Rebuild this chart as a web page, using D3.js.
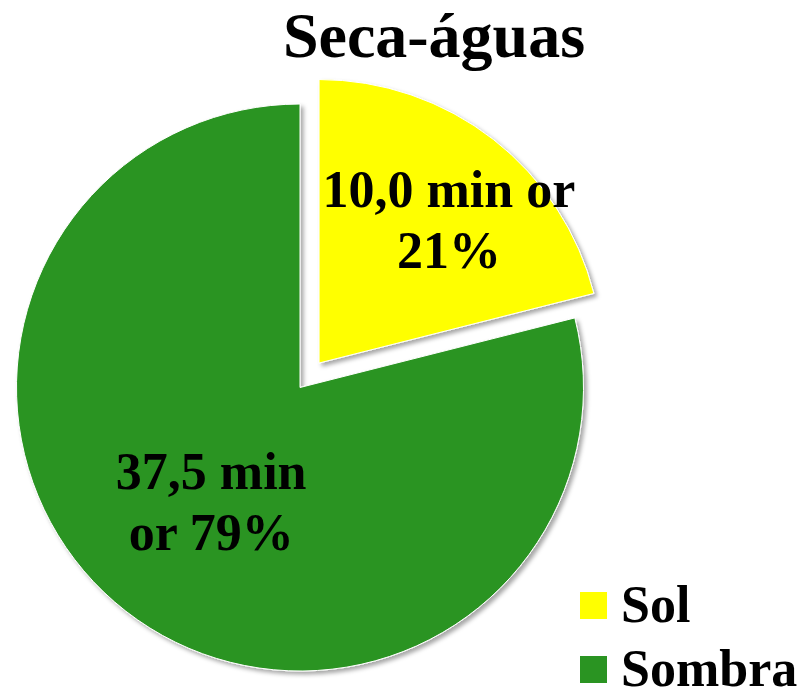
<!DOCTYPE html>
<html>
<head>
<meta charset="utf-8">
<script src="https://cdn.jsdelivr.net/npm/d3@7"></script>
<style>
  html, body { margin: 0; padding: 0; background: #fff; }
  svg text { font-family: "Liberation Serif", "Times New Roman", serif; font-weight: bold; fill: #000; }
</style>
</head>
<body>
<svg width="806" height="687"></svg>
<script>
// chart data
var categories = ["Sol", "Sombra"];
var minutes = [10.0, 37.5];
var minuteLabels = ["10,0", "37,5"];
var percentLabels = ["21%", "79%"];
var colors = ["#FFFF00", "#2A9422"];
var chartTitle = "Seca-águas";

(function () {
    'use strict';

    var svg = d3.select("svg");
    var cx = 300, cy = 387.5, r = 283.5;
    var explode = 31;

    var defs = svg.append("defs");
    var f = defs.append("filter").attr("id", "shadow")
        .attr("x", "-10%").attr("y", "-10%").attr("width", "120%").attr("height", "120%");
    f.append("feDropShadow")
        .attr("dx", 3).attr("dy", 3).attr("stdDeviation", 2)
        .attr("flood-color", "#000").attr("flood-opacity", 0.35);

    var pie = d3.pie().sort(null).value(function (d) { return d; });
    var arcs = pie(minutes);
    var arc = d3.arc().innerRadius(0).outerRadius(r);

    var g = svg.append("g").attr("transform", "translate(" + cx + "," + cy + ")");

    // slice offsets: only the first slice (Sol) is pulled out
    function offset(d, i) {
        if (i !== 0) { return [0, 0]; }
        var a = (d.startAngle + d.endAngle) / 2;
        return [Math.sin(a) * explode, -Math.cos(a) * explode];
    }

    g.selectAll("path.slice")
        .data(arcs)
        .enter().append("path")
        .attr("class", "slice")
        .attr("d", arc)
        .attr("fill", function (d, i) { return colors[i]; })
        .attr("stroke", "#fff")
        .attr("stroke-width", 1)
        .attr("filter", "url(#shadow)")
        .attr("transform", function (d, i) { return "translate(" + offset(d, i) + ")"; });

    // data labels
    var labelRadius = [0.7, 0.51];
    var labelShift = [[8, 14], [0, 0]];
    var labelLines = [
        [minuteLabels[0] + " min or", percentLabels[0]],
        [minuteLabels[1] + " min", "or " + percentLabels[1]]
    ];
    g.selectAll("text.lbl")
        .data(arcs)
        .enter().append("text")
        .attr("class", "lbl")
        .attr("text-anchor", "middle")
        .style("font-size", "52px")
        .each(function (d, i) {
            var a = (d.startAngle + d.endAngle) / 2;
            var o = offset(d, i);
            var lr = labelRadius[i] * r;
            var x = o[0] + Math.sin(a) * lr + labelShift[i][0];
            var y = o[1] - Math.cos(a) * lr + labelShift[i][1];
            var t = d3.select(this);
            labelLines[i].forEach(function (line, k) {
                t.append("tspan")
                    .attr("x", x)
                    .attr("y", y + (k === 0 ? -13 : 48))
                    .text(line);
            });
        });

    // title
    svg.append("text")
        .attr("x", 434).attr("y", 57)
        .attr("text-anchor", "middle")
        .style("font-size", "64px")
        .text(chartTitle);

    // legend
    var legend = svg.append("g").attr("transform", "translate(580,592)");
    var items = legend.selectAll("g.item")
        .data(categories)
        .enter().append("g")
        .attr("class", "item")
        .attr("transform", function (d, i) { return "translate(0," + (i * 64) + ")"; });
    items.append("rect")
        .attr("width", 27).attr("height", 27)
        .attr("fill", function (d, i) { return colors[i]; });
    items.append("text")
        .attr("x", 41).attr("y", 29.5)
        .style("font-size", "52px")
        .text(function (d) { return d; });
}());
</script>
</body>
</html>
